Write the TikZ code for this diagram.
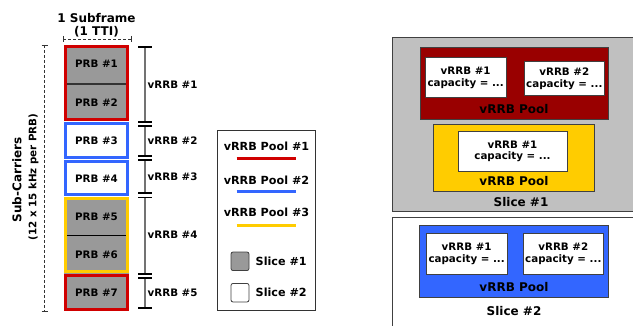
\documentclass[tikz,border=0pt]{standalone}
\usepackage{fontspec}
\setmainfont{DejaVu Sans}
\begin{document}
\begin{tikzpicture}[x=1pt,y=-1pt,
  txt/.style={font=\fontsize{10.3}{11.5}\selectfont\bfseries, inner sep=0pt, align=center},
  big/.style={font=\fontsize{12}{13}\selectfont\bfseries, inner sep=0pt, align=center},
  leg/.style={font=\fontsize{11.2}{12}\selectfont\bfseries, inner sep=0pt},
  pool/.style={line width=3pt},
  rect/.style={draw=black!75, line width=0.8pt, inner sep=0pt},
  brk/.style={draw=black!55, line width=1.5pt},
  tick/.style={draw=black, line width=1.3pt},
  dim/.style={draw=black!80, line width=0.8pt, dash pattern=on 3pt off 2pt}
]
\definecolor{poolred}{HTML}{D00000}
\definecolor{poolblue}{HTML}{3366FF}
\definecolor{poolyellow}{HTML}{FFCC00}
\definecolor{prbgray}{HTML}{999999}
\definecolor{darkred}{HTML}{990000}
\definecolor{slicegray}{HTML}{C0C0C0}
\useasboundingbox (0,0) rectangle (633,326);

% ---------- PRB column ----------
\fill[prbgray] (64,45) rectangle (129,121);
\fill[prbgray] (64,197) rectangle (129,311);
\draw[black!80, line width=1.2pt] (64,84) -- (129,84);
\draw[black, line width=0.8pt] (64,235) -- (129,235);
\draw[pool, poolred] (65.5,46.5) rectangle (127.5,119.5);
\draw[pool, poolblue] (65.5,123.5) rectangle (127.5,157.5);
\draw[pool, poolblue] (65.5,161.5) rectangle (127.5,194.5);
\draw[pool, poolyellow] (65.5,198.5) rectangle (127.5,272);
\draw[pool, poolred] (65.5,275.5) rectangle (127.5,309.5);
\foreach \i/\y in {1/64,2/102.5,3/141,4/178.5,5/216.5,6/254.5,7/292.5}
  \node[txt] (prb\i) at (96.5,\y) {PRB \#\i};

% ---------- title and dimensions ----------
\node[big] (title) at (96.5,18) {1 Subframe};
\node[big] (tti) at (96.5,32) {(1 TTI)};
\coordinate (hl) at (63,39); \coordinate (hr) at (131,39);
\draw[dim] (hl) -- (hr);
\draw[black!80, line width=0.8pt] (63,36) -- (63,42) (131,36) -- (131,42);
\coordinate (vt) at (44.5,45); \coordinate (vb) at (44.5,311);
\draw[dim] (vt) -- (vb);
\draw[black!80, line width=0.8pt] (41.5,45) -- (47.5,45) (41.5,311) -- (47.5,311);
\node[big, rotate=90] (sc) at (17,180) {Sub-Carriers};
\node[font=\fontsize{10.3}{11}\selectfont\bfseries, inner sep=0pt, rotate=90] (scs) at (33.5,177) {(12 x 15 kHz per PRB)};

% ---------- vRRB brackets ----------
\foreach \n/\a/\b/\m in {1/47/122/84.5,2/126/156/141,3/160/193/177,4/197.5/274/235,5/278/308/293}{
  \coordinate (bt\n) at (145,\a); \coordinate (bb\n) at (145,\b);
  \draw[brk] (bt\n) -- (bb\n);
  \draw[tick] (138,\a) -- (152,\a) (138,\b) -- (152,\b);
  \node[txt, anchor=west] (vr\n) at (147.5,\m) {vRRB \#\n};
}

% ---------- legend ----------
\node[rect, draw=black!80, minimum width=98pt, minimum height=180pt] (legend) at (266.5,220.5) {};
\node[leg] (l1) at (266.5,146) {vRRB Pool \#1};
\node[leg] (l2) at (266.5,180) {vRRB Pool \#2};
\node[leg] (l3) at (266.5,212.5) {vRRB Pool \#3};
\draw[poolred, line width=3pt] (236.5,159) -- (296,159);
\draw[poolblue, line width=3pt] (236.5,192) -- (296,192);
\draw[poolyellow, line width=3pt] (236.5,225.3) -- (296,225.3);
\node[rect, fill=prbgray, rounded corners=2pt, minimum width=18pt, minimum height=18.5pt] (sq1) at (240,261.3) {};
\node[rect, fill=white, rounded corners=2pt, minimum width=18pt, minimum height=18.5pt] (sq2) at (240,292.7) {};
\node[leg, anchor=west] (ls1) at (255.5,261.5) {Slice \#1};
\node[leg, anchor=west] (ls2) at (255.5,292.5) {Slice \#2};

% ---------- Slice #1 ----------
\draw[rect, fill=slicegray] (392.7,37.3) rectangle (645,211.7);
\node[rect, fill=darkred, minimum width=188.3pt, minimum height=71.3pt] (rp) at (514.15,83.35) {};
\node[rect, fill=white, minimum width=81.3pt, minimum height=40pt] (r1) at (465.65,77.7) {};
\node[txt] at (r1) {vRRB \#1\\capacity = ...};
\node[rect, fill=white, minimum width=80pt, minimum height=34pt] (r2) at (564.3,78.7) {};
\node[txt] at (r2) {vRRB \#2\\capacity = ...};
\node[big] (rpl) at (514,109) {vRRB Pool};
\node[rect, fill=poolyellow, minimum width=161.7pt, minimum height=67.3pt] (yp) at (513.85,157.65) {};
\node[rect, fill=white, minimum width=109pt, minimum height=39.3pt] (y1) at (512.5,151.35) {};
\node[txt] at (y1) {vRRB \#1\\capacity = ...};
\node[big] (ypl) at (514,181.5) {vRRB Pool};
\node[big] (s1l) at (521,202) {Slice \#1};

% ---------- Slice #2 ----------
\draw[rect, fill=white] (392.7,217.3) rectangle (645,340);
\node[rect, fill=poolblue, minimum width=189pt, minimum height=71.6pt] (bp) at (513.8,261.5) {};
\node[rect, fill=white, minimum width=81.3pt, minimum height=40.7pt] (b1) at (466.65,253.65) {};
\node[txt] at (b1) {vRRB \#1\\capacity = ...};
\node[rect, fill=white, minimum width=80pt, minimum height=40.7pt] (b2) at (563.3,253.65) {};
\node[txt] at (b2) {vRRB \#2\\capacity = ...};
\node[big] (bpl) at (514,287.5) {vRRB Pool};
\node[big] (s2l) at (514,311) {Slice \#2};
\end{tikzpicture}
\end{document}
